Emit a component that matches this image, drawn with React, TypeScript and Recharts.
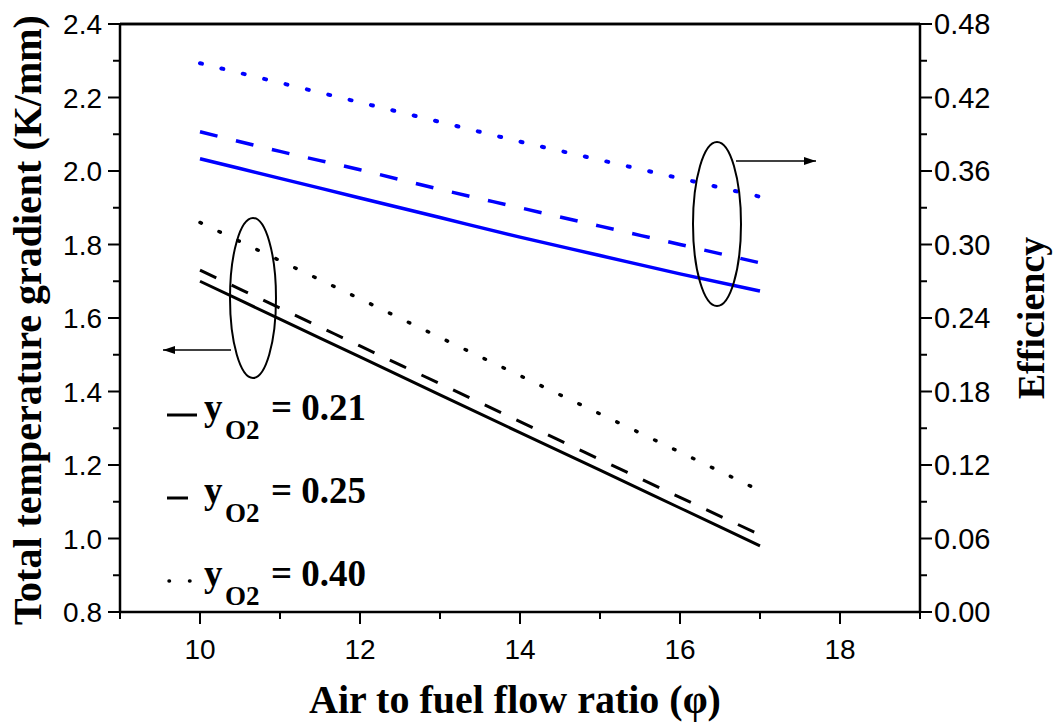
import React from 'react';
import { LineChart, Line, XAxis, YAxis } from 'recharts';

// air to fuel flow ratio
const PHI = [10, 11, 12, 13, 14, 15, 16, 17];

// total temperature gradient (K/mm), left axis
const GRAD_021 = [1.700, 1.597, 1.494, 1.391, 1.288, 1.186, 1.083, 0.980];
const GRAD_025 = [1.730, 1.627, 1.524, 1.421, 1.318, 1.215, 1.112, 1.010];
const GRAD_040 = [1.860, 1.756, 1.652, 1.547, 1.443, 1.339, 1.235, 1.130];

// efficiency, right axis
const EFF_021 = [0.370, 0.354, 0.338, 0.322, 0.306, 0.291, 0.276, 0.262];
const EFF_025 = [0.392, 0.376, 0.361, 0.345, 0.330, 0.315, 0.300, 0.285];
const EFF_040 = [0.448, 0.432, 0.416, 0.400, 0.384, 0.369, 0.354, 0.339];

const X_TICKS = [9, 10, 11, 12, 13, 14, 15, 16, 17, 18, 19];
const X_LABELS = [10, 12, 14, 16, 18];
const LEFT_TICKS = [0.8, 0.9, 1.0, 1.1, 1.2, 1.3, 1.4, 1.5, 1.6, 1.7, 1.8, 1.9, 2.0, 2.1, 2.2, 2.3, 2.4];
const LEFT_LABELS = [0.8, 1.0, 1.2, 1.4, 1.6, 1.8, 2.0, 2.2, 2.4];
const RIGHT_TICKS = [0, 0.03, 0.06, 0.09, 0.12, 0.15, 0.18, 0.21, 0.24, 0.27, 0.3, 0.33, 0.36, 0.39, 0.42, 0.45, 0.48];
const RIGHT_LABELS = [0, 0.06, 0.12, 0.18, 0.24, 0.3, 0.36, 0.42, 0.48];

const LEGEND = ['0.21', '0.25', '0.40'];

const rows = PHI.map((phi, i) => ({
  phi,
  g21: GRAD_021[i],
  g25: GRAD_025[i],
  g40: GRAD_040[i],
  e21: EFF_021[i],
  e25: EFF_025[i],
  e40: EFF_040[i],
}));

const SANS = '"Liberation Sans", Arial, sans-serif';
const SERIF = '"Liberation Serif", "Times New Roman", serif';
const BLUE = '#0000ff';

const BottomTick = ({ x, y, payload }: any) => {
  const major = X_LABELS.includes(payload.value);
  return (
    <g>
      <line x1={x} x2={x} y1={y} y2={y + (major ? 12 : 7)} stroke="#000" strokeWidth={2} />
      {major && (
        <text x={x} y={y + 47} textAnchor="middle" fontFamily={SANS} fontSize={28} fill="#000">
          {payload.value}
        </text>
      )}
    </g>
  );
};

const TopTick = ({ x, y }: any) => (
  <line x1={x} x2={x} y1={y} y2={y + 11} stroke="#000" strokeWidth={2} />
);

const LeftTick = ({ x, y, payload }: any) => {
  const major = LEFT_LABELS.includes(payload.value);
  return (
    <g>
      <line x1={x} x2={x - (major ? 12 : 7)} y1={y} y2={y} stroke="#000" strokeWidth={2} />
      {major && (
        <text x={x - 18} y={y + 10} textAnchor="end" fontFamily={SANS} fontSize={28} fill="#000">
          {payload.value.toFixed(1)}
        </text>
      )}
    </g>
  );
};

const RightTick = ({ x, y, payload }: any) => {
  const major = RIGHT_LABELS.includes(payload.value);
  return (
    <g>
      <line x1={x} x2={x + (major ? 12 : 7)} y1={y} y2={y} stroke="#000" strokeWidth={2} />
      {major && (
        <text x={x + 14} y={y + 10} textAnchor="start" fontFamily={SANS} fontSize={29} fill="#000">
          {payload.value.toFixed(2)}
        </text>
      )}
    </g>
  );
};

const axisCommon = { tickLine: false, tickSize: 0, tickMargin: 0, interval: 0 as const, axisLine: { stroke: '#000', strokeWidth: 2.5 } };

export default function App() {
  const legendRows = [415, 498, 581];
  return (
    <div style={{ position: 'absolute', left: 0, top: 0, width: 1053, height: 724, background: '#fff' }}>
      <LineChart width={1053} height={724} data={rows} margin={{ top: 0, right: 0, bottom: 0, left: 0 }}>
        <XAxis xAxisId="bottom" dataKey="phi" type="number" domain={[9, 19]} ticks={X_TICKS} height={112} tick={<BottomTick />} {...axisCommon} />
        <XAxis xAxisId="top" orientation="top" type="number" domain={[9, 19]} ticks={X_TICKS} height={24} tick={<TopTick />} {...axisCommon} />
        <YAxis yAxisId="left" type="number" domain={[0.8, 2.4]} ticks={LEFT_TICKS} width={120} tick={<LeftTick />} {...axisCommon} />
        <YAxis yAxisId="right" orientation="right" type="number" domain={[0, 0.48]} ticks={RIGHT_TICKS} width={133} tick={<RightTick />} {...axisCommon} />

        <Line xAxisId="bottom" yAxisId="left" dataKey="g21" type="monotone" stroke="#000" strokeWidth={3} dot={false} isAnimationActive={false} />
        <Line xAxisId="bottom" yAxisId="left" dataKey="g25" type="monotone" stroke="#000" strokeWidth={3} strokeDasharray="18 17" dot={false} isAnimationActive={false} />
        <Line xAxisId="bottom" yAxisId="left" dataKey="g40" type="monotone" stroke="#000" strokeWidth={3.5} strokeDasharray="1.5 19.5" strokeLinecap="round" dot={false} isAnimationActive={false} />
        <Line xAxisId="bottom" yAxisId="right" dataKey="e21" type="monotone" stroke={BLUE} strokeWidth={3.5} dot={false} isAnimationActive={false} />
        <Line xAxisId="bottom" yAxisId="right" dataKey="e25" type="monotone" stroke={BLUE} strokeWidth={3.5} strokeDasharray="18 19" dot={false} isAnimationActive={false} />
        <Line xAxisId="bottom" yAxisId="right" dataKey="e40" type="monotone" stroke={BLUE} strokeWidth={4} strokeDasharray="2 20" strokeLinecap="round" dot={false} isAnimationActive={false} />
      </LineChart>

      <svg width={1053} height={724} style={{ position: 'absolute', left: 0, top: 0, pointerEvents: 'none' }}>
        <defs>
          <marker id="arrow" viewBox="0 0 12 8" refX="12" refY="4" markerWidth="12" markerHeight="8" markerUnits="userSpaceOnUse" orient="auto">
            <path d="M0,0 L12,4 L0,8 Z" fill="#000" />
          </marker>
        </defs>
        {/* border top line */}
        <line x1={120} x2={920} y1={24} y2={24} stroke="#000" strokeWidth={2.5} />

        {/* group annotations */}
        <ellipse cx={253} cy={298} rx={23} ry={80} fill="none" stroke="#000" strokeWidth={2} />
        <line x1={231} x2={163} y1={350} y2={350} stroke="#000" strokeWidth={1.5} markerEnd="url(#arrow)" />
        <ellipse cx={717} cy={224} rx={24} ry={82} fill="none" stroke="#000" strokeWidth={2} />
        <line x1={736} x2={816} y1={161} y2={161} stroke="#000" strokeWidth={1.5} markerEnd="url(#arrow)" />

        {/* legend */}
        <line x1={167} x2={197} y1={legendRows[0]} y2={legendRows[0]} stroke="#000" strokeWidth={3} />
        <line x1={167} x2={188} y1={legendRows[1]} y2={legendRows[1]} stroke="#000" strokeWidth={3} />
        <line x1={169} x2={191} y1={legendRows[2]} y2={legendRows[2]} stroke="#000" strokeWidth={3.5} strokeDasharray="0.5 20" strokeLinecap="round" />
        {LEGEND.map((v, i) => (
          <g key={v} fontFamily={SERIF} fontWeight="bold" fill="#000">
            <text x={204} y={legendRows[i] + 5} fontSize={37}>y</text>
            <text x={225} y={legendRows[i] + 24} fontSize={27}>O2</text>
            <text x={271} y={legendRows[i] + 5} fontSize={37}>= {v}</text>
          </g>
        ))}

        {/* axis titles */}
        <text x={0} y={0} transform="translate(41,320) rotate(-90)" textAnchor="middle" fontFamily={SERIF} fontWeight="bold" fontSize={40} fill="#000">
          Total temperature gradient (K/mm)
        </text>
        <text x={0} y={0} transform="translate(1044,318) rotate(-90)" textAnchor="middle" fontFamily={SERIF} fontWeight="bold" fontSize={38} fill="#000">
          Efficiency
        </text>
        <text x={515} y={713} textAnchor="middle" fontFamily={SERIF} fontWeight="bold" fontSize={40} fill="#000">
          Air to fuel flow ratio (φ)
        </text>
      </svg>
    </div>
  );
}
